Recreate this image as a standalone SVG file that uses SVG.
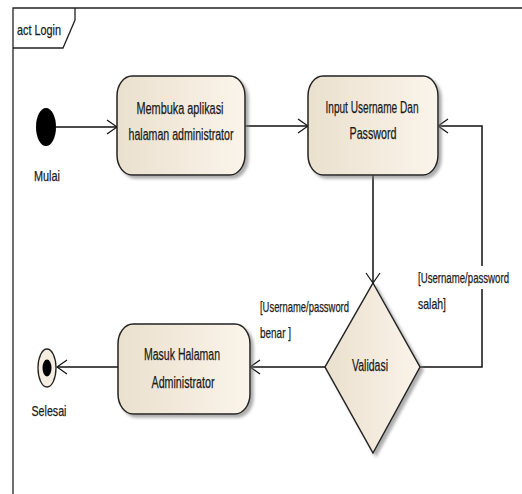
<svg xmlns="http://www.w3.org/2000/svg" width="522" height="494" viewBox="0 0 522 494">
<style>
.t{font-family:"Liberation Sans",Arial,sans-serif;font-size:16px;fill:#1a1a1a;stroke:#1a1a1a;stroke-width:0.25}
.s{font-size:15px}
.m{text-anchor:middle}
.node{fill:url(#g);stroke:#222;stroke-width:1.5}
.c{fill:none;stroke:#111;stroke-width:1.5}
.frame{fill:none;stroke:#222;stroke-width:1.3}
</style>
<defs>
<linearGradient id="g" x1="0" y1="0" x2="1" y2="0">
<stop offset="0" stop-color="#EAE0CE"/>
<stop offset="1" stop-color="#FBF4EA"/>
</linearGradient>
<filter id="sh" x="-20%" y="-20%" width="140%" height="140%">
<feDropShadow dx="3" dy="3" stdDeviation="1.5" flood-color="#777" flood-opacity="0.6"/>
</filter>
<marker id="a" markerWidth="12" markerHeight="16" refX="11" refY="8" orient="auto" markerUnits="userSpaceOnUse">
<path d="M1,1 L11,8 L1,15" fill="none" stroke="#111" stroke-width="1.2"/>
</marker>
</defs>
<rect width="522" height="494" fill="#fff"/>
<g id="frame">
<path class="frame" d="M13,494 V8 H522"/>
<path class="frame" d="M13,48 H63 L75,20 V8"/>
<text class="t s" x="17" y="35" textLength="44" lengthAdjust="spacingAndGlyphs">act Login</text>
</g>
<g id="connectors">
<path class="c" d="M56,127 H117" marker-end="url(#a)"/>
<path class="c" d="M245,126 H308" marker-end="url(#a)"/>
<path class="c" d="M373,175 V283" marker-end="url(#a)"/>
<path class="c" d="M420,367 H482 V289"/>
<path class="c" d="M482,266 V126 H438" marker-end="url(#a)"/>
<path class="c" d="M325,367 H250" marker-end="url(#a)"/>
<path class="c" d="M118,367 H57" marker-end="url(#a)"/>
<text class="t s" x="418" y="283" textLength="91" lengthAdjust="spacingAndGlyphs">[Username/password</text>
<text class="t s" x="418" y="309" textLength="28" lengthAdjust="spacingAndGlyphs">salah]</text>
<text class="t s" x="260" y="312" textLength="89" lengthAdjust="spacingAndGlyphs">[Username/password</text>
<text class="t s" x="260" y="338" textLength="31" lengthAdjust="spacingAndGlyphs">benar ]</text>
</g>
<g id="start">
<ellipse cx="46" cy="127" rx="10" ry="19" fill="#000"/>
<text class="t s m" x="47" y="181" textLength="26" lengthAdjust="spacingAndGlyphs">Mulai</text>
</g>
<g id="membuka">
<rect class="node" x="117" y="76" width="128" height="99" rx="15" ry="20" filter="url(#sh)"/>
<text class="t m" x="180" y="114" textLength="87" lengthAdjust="spacingAndGlyphs">Membuka aplikasi</text>
<text class="t m" x="181" y="140" textLength="105" lengthAdjust="spacingAndGlyphs">halaman administrator</text>
</g>
<g id="input">
<rect class="node" x="308" y="76" width="130" height="99" rx="15" ry="20" filter="url(#sh)"/>
<text class="t m" x="372" y="113" textLength="93" lengthAdjust="spacingAndGlyphs">Input Username Dan</text>
<text class="t m" x="373" y="139" textLength="47" lengthAdjust="spacingAndGlyphs">Password</text>
</g>
<g id="validasi">
<polygon class="node" points="373,283 420,367 373,453 325,367" filter="url(#sh)"/>
<text class="t m" x="370" y="371" textLength="36" lengthAdjust="spacingAndGlyphs">Validasi</text>
</g>
<g id="masuk">
<rect class="node" x="118" y="324" width="132" height="90" rx="15" ry="20" filter="url(#sh)"/>
<text class="t m" x="182" y="360" textLength="76" lengthAdjust="spacingAndGlyphs">Masuk Halaman</text>
<text class="t m" x="183" y="388" textLength="63" lengthAdjust="spacingAndGlyphs">Administrator</text>
</g>
<g id="selesai">
<ellipse cx="47" cy="368" rx="9" ry="19" fill="#F5EDE0" stroke="#222" stroke-width="1.3"/>
<ellipse cx="47" cy="368" rx="4.5" ry="8.5" fill="#000"/>
<text class="t s m" x="49" y="416" textLength="35" lengthAdjust="spacingAndGlyphs">Selesai</text>
</g>
</svg>
